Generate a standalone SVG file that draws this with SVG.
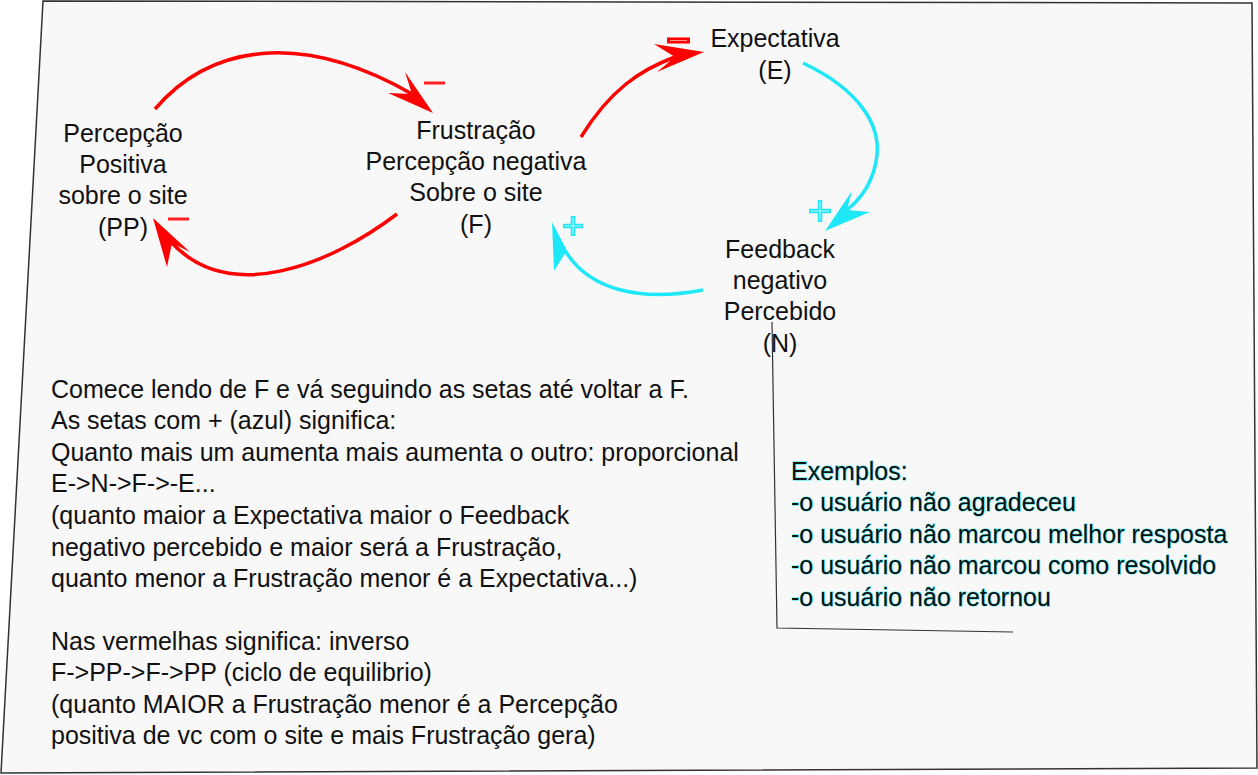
<svg xmlns="http://www.w3.org/2000/svg" width="1258" height="775" viewBox="0 0 1258 775">
<style>
.t{font-family:"Liberation Sans",Arial,sans-serif;font-size:25px;fill:#111}
.c{text-anchor:middle}
.ex{font-family:"Liberation Sans",Arial,sans-serif;font-size:25px;fill:#111;stroke:#1ee8f0;stroke-width:0.8px;paint-order:stroke}
.r{fill:none;stroke:#ff0000;stroke-width:3.5}
.b{fill:none;stroke:#1ee8f8;stroke-width:3.5}
.rh{fill:#ff0000}
.bh{fill:#1ee8f8}
</style>
<rect width="1258" height="775" fill="#fff"/>
<polygon points="43,1 1252,3 1257,768 1,773" fill="#f8f8f8" stroke="#333" stroke-width="1.5"/>
<g id="connectors">
<path class="r" d="M155,109 C210,45 300,30 412,94"/>
<polygon class="rh" points="433,113 388,93 412,94 405,72"/>
<path class="r" d="M397,214 C330,265 230,305 172,243"/>
<polygon class="rh" points="153,218 190,252 172,243 167,267"/>
<path class="r" d="M581,137 C610,90 640,70 675,57"/>
<polygon class="rh" points="704,52 657,72 675,57 654,44"/>
<path class="b" d="M803,63 C860,90 880,125 877,155 C874,182 862,198 847,210"/>
<polygon class="bh" points="825,231 852,191 847,210 870,212"/>
<path class="b" d="M703,290 C640,302 590,290 566,252"/>
<polygon class="bh" points="552,222 572,260 566,252 554,271"/>
<line x1="424" y1="83" x2="445" y2="83" stroke="#ff2020" stroke-width="3"/>
<line x1="168" y1="219" x2="189" y2="219" stroke="#ff2020" stroke-width="3"/>
<rect x="667" y="37.5" width="23" height="6" fill="#ff0000"/>
<line x1="670" y1="40.5" x2="687" y2="40.5" stroke="#ff9090" stroke-width="1"/>
<path d="M563,226 H583 M573,216 V236" stroke="#1ee8f8" stroke-width="4.5" fill="none"/>
<path d="M564.5,226 H581.5 M573,217.5 V234.5" stroke="#b8f8fb" stroke-width="1" fill="none"/>
<path d="M809,211 H831 M820,200 V222" stroke="#1ee8f8" stroke-width="4.5" fill="none"/>
<path d="M810.5,211 H829.5 M820,201.5 V220.5" stroke="#b8f8fb" stroke-width="1" fill="none"/>
</g>
<g id="node-PP">
<text class="t c" x="123" y="142">Percepção</text>
<text class="t c" x="123" y="173">Positiva</text>
<text class="t c" x="123" y="204">sobre o site</text>
<text class="t c" x="123" y="236">(PP)</text>
</g>
<g id="node-F">
<text class="t c" x="476" y="139">Frustração</text>
<text class="t c" x="476" y="170">Percepção negativa</text>
<text class="t c" x="476" y="201">Sobre o site</text>
<text class="t c" x="476" y="233">(F)</text>
</g>
<g id="node-E">
<text class="t c" x="775" y="47">Expectativa</text>
<text class="t c" x="775" y="79">(E)</text>
</g>
<g id="node-N">
<text class="t c" x="780" y="258">Feedback</text>
<text class="t c" x="780" y="289">negativo</text>
<text class="t c" x="780" y="320">Percebido</text>
<text class="t c" x="780" y="352">(N)</text>
</g>
<g id="examples">
<polyline points="772,322 777,628 1013,632" fill="none" stroke="#333" stroke-width="1.2"/>
<text class="ex" x="791" y="480">Exemplos:</text>
<text class="ex" x="791" y="511">-o usuário não agradeceu</text>
<text class="ex" x="791" y="543">-o usuário não marcou melhor resposta</text>
<text class="ex" x="791" y="574">-o usuário não marcou como resolvido</text>
<text class="ex" x="791" y="606">-o usuário não retornou</text>
</g>
<g id="legend">
<text class="t" x="51" y="398">Comece lendo de F e vá seguindo as setas até voltar a F.</text>
<text class="t" x="51" y="429">As setas com + (azul) significa:</text>
<text class="t" x="51" y="461">Quanto mais um aumenta mais aumenta o outro: proporcional</text>
<text class="t" x="51" y="492">E-&gt;N-&gt;F-&gt;-E...</text>
<text class="t" x="51" y="524">(quanto maior a Expectativa maior o Feedback</text>
<text class="t" x="51" y="556">negativo percebido e maior será a Frustração,</text>
<text class="t" x="51" y="587">quanto menor a Frustração menor é a Expectativa...)</text>
<text class="t" x="51" y="650">Nas vermelhas significa: inverso</text>
<text class="t" x="51" y="681">F-&gt;PP-&gt;F-&gt;PP (ciclo de equilibrio)</text>
<text class="t" x="51" y="713">(quanto MAIOR a Frustração menor é a Percepção</text>
<text class="t" x="51" y="744">positiva de vc com o site e mais Frustração gera)</text>
</g>
</svg>
